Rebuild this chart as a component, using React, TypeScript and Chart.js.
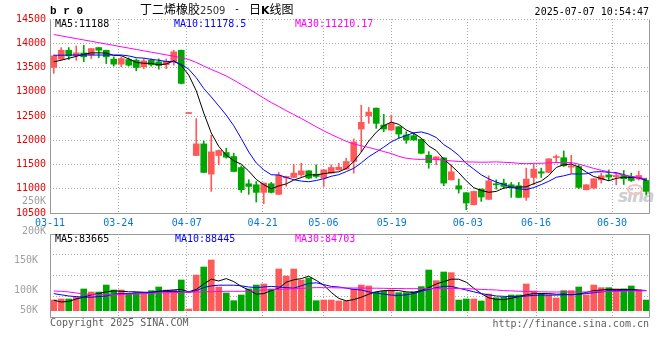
import React, { useEffect, useRef } from 'react';
import { Chart, registerables } from 'chart.js';

Chart.register(...registerables);

const dates = [
  '03-11','03-12','03-13','03-14','03-17','03-18','03-19','03-20','03-21','03-24',
  '03-25','03-26','03-27','03-28','03-31','04-01','04-02','04-03','04-07','04-08',
  '04-09','04-10','04-11','04-14','04-15','04-16','04-17','04-18','04-21','04-22',
  '04-23','04-24','04-25','04-28','04-29','04-30','05-06','05-07','05-08','05-09',
  '05-12','05-13','05-14','05-15','05-16','05-19','05-20','05-21','05-22','05-23',
  '05-26','05-27','05-28','05-29','05-30','06-03','06-04','06-05','06-06','06-09',
  '06-10','06-11','06-12','06-13','06-16','06-17','06-18','06-19','06-20','06-23',
  '06-24','06-25','06-26','06-27','06-30','07-01','07-02','07-03','07-04','07-07',
];
const labelDates = ['03-11','03-24','04-07','04-21','05-06','05-19','06-03','06-16','06-30'];

const open = [
  13500,13672,13856,13747,13800,13755,13911,13856,13672,13569,
  13665,13651,13514,13651,13617,13555,13617,13856,12550,11685,
  11925,11302,11685,11747,11665,11438,11103,11082,10925,11103,
  10884,11226,11233,11288,11370,11301,11219,11322,11390,11404,
  11562,12231,12504,12662,12313,12210,12278,12108,12094,12019,
  11691,11596,11637,11185,11062,10918,10671,10993,10781,11103,
  11116,11082,11062,10822,11233,11350,11336,11644,11640,11445,
  11457,10979,11014,11185,11286,11247,11274,11253,11199,11171,
];
const high = [
  13760,13911,13911,13945,13960,13890,13911,13856,13720,13720,
  13700,13678,13685,13678,13678,13678,13856,13860,12555,12445,
  11986,12103,11800,11836,11733,11473,11185,11150,11120,11130,
  11336,11260,11507,11527,11375,11493,11395,11493,11527,11630,
  12028,12724,12677,12665,12533,12519,12280,12176,12150,12030,
  11765,11660,11640,11493,11199,10920,10950,10995,11267,11185,
  11199,11130,11130,11425,11507,11425,11620,11699,11779,11690,
  11493,11085,11210,11322,11389,11322,11377,11322,11363,11219,
];
const low = [
  13380,13660,13665,13650,13620,13685,13700,13582,13528,13514,
  13528,13432,13473,13528,13466,13473,13548,13160,12550,11685,
  11336,10945,11493,11630,11350,10925,10884,10726,10692,10911,
  10880,11048,11230,11253,11205,11220,11048,11320,11385,11400,
  11322,11765,12348,12245,12176,12205,12040,11937,12000,11720,
  11424,11493,11062,11180,10911,10568,10665,10740,10780,10993,
  11000,10822,10820,10760,11082,11233,11330,11541,11459,11322,
  11000,10975,10993,11116,11169,11081,11089,11150,11180,10870,
];
const close = [
  13740,13856,13740,13802,13720,13890,13856,13720,13569,13685,
  13548,13500,13637,13555,13541,13630,13822,13172,12555,11925,
  11336,11760,11788,11651,11356,10980,11048,10925,11116,10925,
  11281,11253,11322,11370,11220,11253,11390,11438,11445,11562,
  11966,12369,12580,12348,12231,12348,12128,12005,12005,11732,
  11539,11658,11116,11349,10993,10705,10945,10829,11164,11082,
  11048,11048,10822,11199,11404,11322,11617,11658,11473,11473,
  11027,11082,11206,11267,11240,11274,11206,11171,11274,10945,
];

const ma5 = [
  13617,13650,13690,13730,13772,13802,13802,13798,13751,13744,
  13676,13604,13588,13585,13556,13573,13637,13544,13344,13021,
  12562,12150,11873,11692,11578,11507,11365,11192,11085,10999,
  11059,11100,11179,11230,11289,11284,11311,11334,11349,11418,
  11560,11756,11984,12165,12299,12375,12327,12212,12143,12044,
  11882,11788,11610,11479,11331,11164,11022,10964,10927,10945,
  11014,11034,11033,11040,11104,11159,11273,11440,11495,11509,
  11450,11343,11252,11211,11164,11214,11239,11232,11233,11174,
];
const ma10 = [
  13752,13754,13756,13757,13758,13758,13757,13757,13757,13758,
  13739,13703,13693,13668,13650,13624,13621,13566,13465,13289,
  13067,12893,12708,12518,12300,12035,11757,11532,11389,11289,
  11283,11232,11186,11158,11144,11171,11206,11257,11290,11353,
  11422,11534,11659,11757,11858,11968,12042,12098,12154,12171,
  12129,12057,11911,11811,11687,11523,11405,11287,11203,11138,
  11089,11028,10999,10984,11025,11086,11154,11236,11267,11306,
  11304,11308,11346,11353,11337,11332,11291,11242,11222,11169,
];
const ma30 = [
  14180,14152,14124,14096,14068,14040,14012,13984,13956,13928,
  13900,13872,13844,13816,13788,13760,13732,13700,13665,13605,
  13530,13460,13395,13325,13240,13150,13060,12965,12870,12778,
  12696,12610,12529,12448,12365,12277,12194,12118,12048,11977,
  11924,11886,11851,11811,11767,11725,11668,11629,11611,11604,
  11611,11608,11585,11575,11563,11554,11551,11547,11549,11554,
  11546,11540,11523,11517,11523,11526,11533,11541,11542,11539,
  11507,11464,11419,11383,11349,11314,11283,11255,11231,11205,
];

const volume = [
  83300,85000,85000,87800,101700,96700,96700,108300,100000,100000,
  94400,95600,96700,98900,105000,100000,100000,116700,68300,125000,
  138300,150000,105000,95000,82200,91700,101700,108300,110000,101700,
  135000,123300,135000,116700,120000,82200,83300,83300,81700,81700,
  101700,108300,106700,96700,98300,100000,95600,95600,97200,105600,
  133300,115600,130000,128900,83300,85000,85000,81700,93300,87200,
  87800,91700,91700,110000,98300,94400,91700,86700,98900,98900,
  105000,91700,108300,103900,103900,101700,101700,106700,100000,83300,
];
const volMa5 = [
  83000,80000,81000,85000,88000,92000,94000,97000,98500,98000,
  97000,97000,96000,96000,98000,99000,100000,101000,97000,101000,
  110000,118000,115000,119000,114000,106000,100000,93000,94000,99000,
  103000,113000,117000,119000,123000,116000,108000,96000,86000,82000,
  84000,88000,93000,97000,99000,99000,99000,97000,96000,99000,
  104000,110000,114000,118000,118000,113000,103000,94000,87000,84000,
  84000,86000,89000,92000,94000,94000,94000,93000,93000,92000,
  93000,96000,99000,100000,101000,101000,101000,101000,100000,99000,
];
const volMa10 = [
  94000,92000,90000,89000,88000,88000,89000,90000,93000,94000,
  94000,95000,95500,96000,97000,97500,97500,97000,96000,99000,
  104000,107000,108000,108000,108000,107000,105000,104000,105000,106000,
  105000,104000,103000,107000,111000,112000,109000,106000,105000,103000,
  101000,100000,97000,95000,93000,91500,91000,92000,94000,98000,
  101000,104000,106000,106000,103000,100000,97000,94000,92000,90000,
  89500,89000,89000,90000,91000,91500,91500,91500,92000,92500,
  93000,94000,95500,97000,98500,99000,99500,99500,99000,99000,
];
const volMa30 = [
  98300,97800,96700,95000,93300,92500,92200,92200,92200,92500,
  93000,93300,94000,94400,95000,95300,95600,96000,96500,96700,
  97000,97300,97500,97800,97800,97800,98000,99000,100000,100500,
  101000,101500,102000,102500,103500,104000,104000,103800,103500,103500,
  103300,103300,103000,103000,102800,102500,102500,102200,102200,102200,
  102200,102200,102200,102500,102500,102200,101700,101000,100500,100000,
  99000,98500,98000,97500,97200,97000,96700,96700,96700,96700,
  96700,96700,97000,97200,97500,97800,98000,98300,98600,98900,
];

const priceMin = 10500;
const priceMax = 14500;
const priceStep = 500;
const volAxisMin = 55000;
const volAxisMax = 193333;
const volBase = 65500;
const volTickValues = [65500, 100000, 150000];
const volTickLabels = ['50K', '100K', '150K'];

const UP = '#ff5a5a';
const DOWN = '#00a600';
const GRID = '#a8a8a8';
const FRAME = '#999999';
const MONO = '"DejaVu Sans Mono", "Liberation Mono", monospace';

const makeFrame = (drawTop: boolean) => ({
  id: drawTop ? 'frameAll' : 'frameOpen',
  afterDraw(chart: any) {
    const { ctx, chartArea } = chart;
    const l = Math.round(chartArea.left) + 0.5;
    const r = Math.round(chartArea.right) - 0.5;
    const t = Math.round(chartArea.top) + 0.5;
    const b = Math.round(chartArea.bottom) + 0.5;
    ctx.save();
    ctx.strokeStyle = FRAME;
    ctx.lineWidth = 1;
    ctx.setLineDash([]);
    ctx.beginPath();
    ctx.moveTo(r, t);
    ctx.lineTo(r, b);
    ctx.lineTo(l, b);
    ctx.lineTo(l, t);
    if (drawTop) ctx.lineTo(r, t);
    ctx.stroke();
    ctx.restore();
  },
});

const lineDs = (data: number[], color: string) => ({
  type: 'line',
  data,
  borderColor: color,
  borderWidth: 1,
  pointRadius: 0,
  tension: 0,
  fill: false,
  order: 0,
});

export default function App() {
  const mainRef = useRef<HTMLCanvasElement>(null);
  const volRef = useRef<HTMLCanvasElement>(null);

  useEffect(() => {
    Chart.defaults.font.family = MONO;
    const colors = close.map((c, i) => (c >= open[i] ? UP : DOWN));
    const labelIdx = labelDates.map((d) => dates.indexOf(d));

    const gridX = (showLabels: boolean, h: number) => ({
      type: 'linear',
      position: 'bottom',
      offset: false,
      min: 0,
      max: dates.length - 1,
      afterBuildTicks: (s: any) => {
        s.ticks = labelIdx.map((v) => ({ value: v }));
      },
      afterFit: (s: any) => {
        s.height = h;
      },
      grid: { color: GRID, drawTicks: false, lineWidth: 1, offset: false },
      border: { display: false, dash: [1, 2] },
      ticks: {
        display: showLabels,
        autoSkip: false,
        maxRotation: 0,
        padding: 4,
        color: '#0a78d2',
        font: { family: MONO, size: 10 },
        callback: (v: number) => dates[v],
      },
    });

    const main = new Chart(mainRef.current as HTMLCanvasElement, {
      type: 'bar',
      data: {
        labels: dates,
        datasets: [
          lineDs(ma30, '#ff00ff'),
          lineDs(ma10, '#0000ff'),
          lineDs(ma5, '#000000'),
          {
            type: 'bar',
            data: open.map((o, i) => [o, close[i]]),
            backgroundColor: colors,
            barThickness: 6,
            grouped: false,
            minBarLength: 1,
            order: 1,
          },
          {
            type: 'bar',
            data: low.map((l, i) => [l, high[i]]),
            backgroundColor: colors,
            barThickness: 1,
            grouped: false,
            minBarLength: 1,
            order: 2,
          },
        ] as any,
      },
      options: {
        responsive: false,
        animation: false,
        devicePixelRatio: 1,
        layout: { padding: { top: 19, right: 10, left: 0, bottom: 0 } },
        plugins: { legend: { display: false }, tooltip: { enabled: false } },
        scales: {
          x: { type: 'category', display: false, offset: true },
          xg: gridX(true, 19) as any,
          y: {
            type: 'linear',
            position: 'left',
            min: priceMin,
            max: priceMax,
            afterFit: (s: any) => {
              s.width = 50;
            },
            grid: { color: GRID, drawTicks: false, lineWidth: 1 },
            border: { display: false, dash: [1, 2] },
            ticks: {
              stepSize: priceStep,
              padding: 4,
              color: '#f00000',
              font: { family: MONO, size: 10 },
              callback: (v: number) => String(v),
            },
          },
        },
      } as any,
      plugins: [makeFrame(false)],
    });

    const vol = new Chart(volRef.current as HTMLCanvasElement, {
      type: 'bar',
      data: {
        labels: dates,
        datasets: [
          { ...lineDs(volMa30, '#ff00ff'), yAxisID: 'yv' },
          { ...lineDs(volMa10, '#0000ff'), yAxisID: 'yv' },
          { ...lineDs(volMa5, '#000000'), yAxisID: 'yv' },
          {
            type: 'bar',
            data: volume.map((v) => [volBase, v]),
            backgroundColor: colors,
            barThickness: 6,
            grouped: false,
            order: 1,
            yAxisID: 'yv',
          },
        ] as any,
      },
      options: {
        responsive: false,
        animation: false,
        devicePixelRatio: 1,
        layout: { padding: { top: 12, right: 10, left: 0, bottom: 0 } },
        plugins: { legend: { display: false }, tooltip: { enabled: false } },
        scales: {
          x: { type: 'category', display: false, offset: true },
          xg: gridX(false, 13) as any,
          yv: {
            type: 'linear',
            position: 'left',
            min: volAxisMin,
            max: volAxisMax,
            afterBuildTicks: (s: any) => {
              s.ticks = volTickValues.map((v) => ({ value: v }));
            },
            afterFit: (s: any) => {
              s.width = 50;
            },
            grid: { display: false },
            border: { display: false },
            ticks: {
              padding: 4,
              color: '#a0a0a0',
              font: { family: MONO, size: 10 },
              callback: (_v: number, idx: number) => volTickLabels[idx],
            },
          },
          yg: {
            type: 'linear',
            position: 'right',
            min: 0,
            max: 4,
            afterFit: (s: any) => {
              s.width = 0;
            },
            grid: { color: GRID, drawTicks: false, lineWidth: 1 },
            border: { display: false, dash: [1, 2] },
            ticks: { display: false, stepSize: 1 },
          },
        },
      } as any,
      plugins: [makeFrame(true)],
    });

    return () => {
      main.destroy();
      vol.destroy();
    };
  }, []);

  const txt = (extra: React.CSSProperties): React.CSSProperties => ({
    position: 'absolute',
    fontFamily: MONO,
    fontSize: 10,
    lineHeight: '12px',
    whiteSpace: 'pre',
    ...extra,
  });

  return (
    <div
      style={{
        position: 'fixed',
        left: 0,
        top: 0,
        width: 660,
        height: 360,
        background: '#ffffff',
        overflow: 'hidden',
      }}
    >
      <div style={txt({ left: 618, top: 190, fontFamily: '"DejaVu Sans", sans-serif', fontSize: 17, fontStyle: 'italic', fontWeight: 'bold', color: '#cfcfcf', letterSpacing: -1 })}>sina</div>
      <div style={{ position: 'absolute', left: 627, top: 184, width: 12, height: 7, border: '2px solid #f3c4c4', borderRadius: '50%' }} />
      <canvas ref={mainRef} width={660} height={232} style={{ position: 'absolute', left: 0, top: 0 }} />
      <canvas ref={volRef} width={660} height={108} style={{ position: 'absolute', left: 0, top: 222 }} />

      <div style={txt({ left: 50, top: 5, fontFamily: '"Liberation Mono", monospace', fontSize: 11, fontWeight: 'bold', color: '#000' })}>b r 0</div>
      <div style={txt({ left: 140, top: 3, fontFamily: '"Noto Sans CJK SC", sans-serif', fontSize: 12, color: '#000' })}>
        丁二烯橡胶<span style={{ fontFamily: '"DejaVu Sans", sans-serif', fontSize: 10, color: '#333' }}>2509</span>
      </div>
      <div style={txt({ left: 234, top: 3, fontSize: 10, color: '#000' })}>-</div>
      <div style={txt({ left: 249, top: 3, fontFamily: '"Noto Sans CJK SC", sans-serif', fontSize: 12, color: '#000' })}>
        日<b style={{ fontFamily: '"DejaVu Sans", sans-serif', fontSize: 11 }}>K</b>线图
      </div>
      <div style={txt({ right: 11, top: 6, color: '#000' })}>2025-07-07 10:54:47</div>

      <div style={txt({ left: 55, top: 18, color: '#000' })}>MA5:11188</div>
      <div style={txt({ left: 174, top: 18, color: '#0000ff' })}>MA10:11178.5</div>
      <div style={txt({ left: 295, top: 18, color: '#ff00ff' })}>MA30:11210.17</div>

      <div style={txt({ left: 0, width: 46, textAlign: 'right', top: 195, color: '#a0a0a0' })}>250K</div>
      <div style={txt({ left: 0, width: 46, textAlign: 'right', top: 225, color: '#a0a0a0' })}>200K</div>

      <div style={txt({ left: 55, top: 233, color: '#000' })}>MA5:83665</div>
      <div style={txt({ left: 175, top: 233, color: '#0000ff' })}>MA10:88445</div>
      <div style={txt({ left: 295, top: 233, color: '#ff00ff' })}>MA30:84703</div>

      <div style={txt({ left: 50, top: 317, color: '#606060' })}>Copyright 2025 SINA.COM</div>
      <div style={txt({ right: 11, top: 318, color: '#606060' })}>http://finance.sina.com.cn</div>
    </div>
  );
}
